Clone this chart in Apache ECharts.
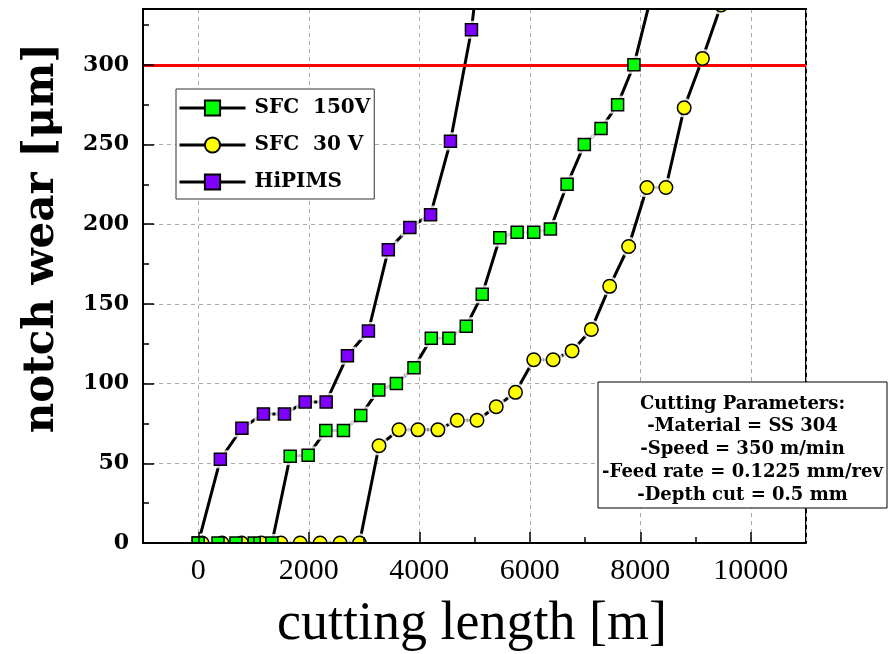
<!DOCTYPE html>
<html>
<head>
<meta charset="utf-8">
<script src="https://cdn.jsdelivr.net/npm/echarts@6/dist/echarts.min.js"></script>
<style>
  html, body { margin: 0; padding: 0; background: #fff; }
  #chart { width: 892px; height: 654px; }
</style>
</head>
<body>
<div id="chart"></div>
<script>
// Axis ticks
const xMajorTicks = [0, 2000, 4000, 6000, 8000, 10000];
const xMinorTicks = [1000, 3000, 5000, 7000, 9000];
const yMajorTicks = [0, 50, 100, 150, 200, 250, 300];
const yMinorTicks = [25, 75, 125, 175, 225, 275, 325];

// Wear criterion (µm)
const wearLimit = 300;

// SFC 150V
const sfc150Length = [0, 358, 683, 1014, 1333, 1664, 1989, 2309, 2628, 2941, 3267, 3586, 3905, 4218, 4537, 4851, 5140, 5458, 5772, 6072, 6374, 6676, 6988, 7290, 7590, 7886, 8190];
const sfc150Wear   = [0, 0, 0, 0, 0, 54.5, 55, 70.5, 70.5, 80, 96, 100, 110, 128.5, 128.5, 136, 156, 191.5, 195, 195, 197, 225, 250, 260, 275, 300, 342];

// SFC 30 V
const sfc30Length = [70, 430, 786, 1141, 1496, 1845, 2206, 2567, 2918, 3272, 3633, 3977, 4338, 4688, 5045, 5393, 5742, 6073, 6423, 6766, 7115, 7446, 7790, 8121, 8464, 8795, 9126, 9463];
const sfc30Wear   = [0, 0, 0, 0, 0, 0, 0, 0, 0, 61, 71, 71, 71, 77, 77, 85.5, 94.5, 115, 115, 120.5, 134, 161, 186, 223, 223, 273, 304, 337.5];

// HiPIMS
const hipimsLength = [0, 400, 790, 1180, 1560, 1935, 2315, 2700, 3080, 3440, 3830, 4205, 4565, 4945, 5330];
const hipimsWear   = [0, 52.5, 72, 81, 81, 88.5, 88.5, 117.5, 133, 184, 198, 206, 252, 322, 437];

// markerZ: SFC 150V markers sit on top of the others where they overlap
const seriesDefs = [
  { name: 'SFC  150V', x: sfc150Length, y: sfc150Wear, symbol: 'rect', size: 12, color: '#00ff00', clip: true, markerZ: 7 },
  { name: 'SFC  30 V', x: sfc30Length, y: sfc30Wear, symbol: 'circle', size: 13.5, color: '#ffff00', clip: false, markerZ: 6 },
  { name: 'HiPIMS', x: hipimsLength, y: hipimsWear, symbol: 'rect', size: 12, color: '#8000ff', clip: true, markerZ: 5 }
];

const paramLines = [
  'Cutting Parameters:',
  '-Material = SS 304',
  '-Speed = 350 m/min',
  '-Feed rate = 0.1225 mm/rev',
  '-Depth cut = 0.5 mm'
];

const zip = (xs, ys) => xs.map((v, i) => [v, ys[i]]);

const series = [];
seriesDefs.forEach((d) => {
  const pts = zip(d.x, d.y);
  // connecting line
  series.push({
    type: 'line', data: pts, symbol: 'none', silent: true, clip: d.clip, z: 2,
    lineStyle: { color: '#000', width: 3 }
  });
  // white halo so the line stops short of each marker
  const halo = {
    type: 'scatter', data: pts, symbol: d.symbol, symbolSize: d.size + 6, silent: true,
    clip: d.clip, z: 3, itemStyle: { color: '#fff', borderWidth: 0 }
  };
  if (d.name === 'SFC  150V') {
    halo.markLine = {
      silent: true, z: 4, symbol: ['none', 'none'], label: { show: false },
      lineStyle: { color: '#ff0000', width: 3, type: 'solid' },
      data: [{ yAxis: wearLimit }]
    };
  }
  series.push(halo);
  // markers (also feeds the legend icon)
  series.push({
    name: d.name, type: 'line', data: pts, symbol: d.symbol, symbolSize: d.size,
    showAllSymbol: true, clip: d.clip, z: d.markerZ,
    itemStyle: { color: d.color, borderColor: '#000', borderWidth: 1.5, opacity: 1 },
    lineStyle: { color: '#000', width: 3, opacity: 0 }
  });
});

const xRange = { min: -1000, max: 11000 };
const yRange = { min: 0, max: 335 };
const tickStyle = { color: '#000', width: 1.5 };

const chart = echarts.init(document.getElementById('chart'), null, { renderer: 'canvas' });
chart.setOption({
  animation: false,
  backgroundColor: '#fff',
  grid: { left: 143, right: 86, top: 9, bottom: 111, show: true, borderColor: '#000', borderWidth: 2, backgroundColor: 'transparent' },
  legend: {
    data: seriesDefs.map(d => d.name),
    orient: 'vertical', left: 176, top: 89,
    itemWidth: 66, itemHeight: 19, itemGap: 17,
    padding: [9, 4, 7, 2],
    backgroundColor: '#fff', borderColor: '#333', borderWidth: 1, borderRadius: 0,
    selectedMode: false, z: 8,
    textStyle: { fontFamily: 'DejaVu Serif', fontWeight: 'bold', fontSize: 20, color: '#000', padding: [0, 0, 0, 4] },
    lineStyle: { color: '#000', width: 3, opacity: 1 }
  },
  xAxis: [
    { type: 'value', ...xRange, splitNumber: 6, z: 0,
      axisLine: { show: false, onZero: false }, axisTick: { show: false }, axisLabel: { show: false },
      splitLine: { show: true, lineStyle: { color: '#aaaaaa', width: 1, type: [4, 4] } } },
    { type: 'value', ...xRange, position: 'bottom', z: 60,
      axisLine: { show: true, onZero: false, lineStyle: { color: '#000', width: 2 } },
      axisTick: { show: true, inside: true, length: 11, customValues: xMajorTicks, lineStyle: tickStyle },
      axisLabel: { show: true, customValues: xMajorTicks, margin: 13, color: '#000', fontFamily: 'Liberation Serif', fontSize: 30,
        formatter: v => String(v) },
      splitLine: { show: false } },
    { type: 'value', ...xRange, position: 'bottom', z: 60,
      axisLine: { show: false, onZero: false },
      axisTick: { show: true, inside: true, length: 6, customValues: xMinorTicks, lineStyle: tickStyle },
      axisLabel: { show: false }, splitLine: { show: false } }
  ],
  yAxis: [
    { type: 'value', ...yRange, interval: 50, z: 0,
      axisLine: { show: false, onZero: false }, axisTick: { show: false }, axisLabel: { show: false },
      splitLine: { show: true, lineStyle: { color: '#aaaaaa', width: 1, type: [4, 4] } } },
    { type: 'value', ...yRange, interval: 50, position: 'left', z: 60,
      axisLine: { show: true, onZero: false, lineStyle: { color: '#000', width: 2 } },
      axisTick: { show: true, inside: true, length: 11, customValues: yMajorTicks, lineStyle: tickStyle },
      axisLabel: { show: true, customValues: yMajorTicks, margin: 14, color: '#000', fontFamily: 'DejaVu Serif', fontWeight: 'bold', fontSize: 22 },
      splitLine: { show: false } },
    { type: 'value', ...yRange, interval: 50, position: 'left', z: 60,
      axisLine: { show: false, onZero: false },
      axisTick: { show: true, inside: true, length: 6, customValues: yMinorTicks, lineStyle: tickStyle },
      axisLabel: { show: false }, splitLine: { show: false } }
  ],
  series: series,
  graphic: [
    // markers are cut off at the frame: blank out what spills above and below it
    { type: 'rect', z: 50, silent: true, shape: { x: 0, y: 0, width: 892, height: 8 }, style: { fill: '#fff' } },
    { type: 'line', z: 51, silent: true, shape: { x1: 142, y1: 9, x2: 807, y2: 9 }, style: { stroke: '#000', lineWidth: 2 } },
    { type: 'rect', z: 50, silent: true, shape: { x: 0, y: 543, width: 892, height: 111 }, style: { fill: '#fff' } },
    // axis titles
    { type: 'text', z: 61, x: 472, y: 625,
      style: { text: 'cutting length [m]', font: '54px "Liberation Serif"', fill: '#000', align: 'center', verticalAlign: 'middle', textAlign: 'center', textVerticalAlign: 'middle' } },
    { type: 'text', z: 61, x: 42, y: 238, rotation: Math.PI / 2,
      style: { text: 'notch wear [μm]', font: 'bold 42px "DejaVu Serif"', fill: '#000', align: 'center', verticalAlign: 'middle', textAlign: 'center', textVerticalAlign: 'middle' } },
    // cutting parameters box
    { type: 'rect', z: 70, silent: true, shape: { x: 598, y: 382, width: 289, height: 126 }, style: { fill: '#fff', stroke: '#000', lineWidth: 1 } },
    { type: 'text', z: 71, x: 742.5, y: 449.5,
      style: { text: paramLines.join('\n'), font: 'bold 18px "DejaVu Serif"', lineHeight: 22.75, fill: '#000', align: 'center', verticalAlign: 'middle', textAlign: 'center', textVerticalAlign: 'middle' } }
  ]
});
</script>
</body>
</html>
